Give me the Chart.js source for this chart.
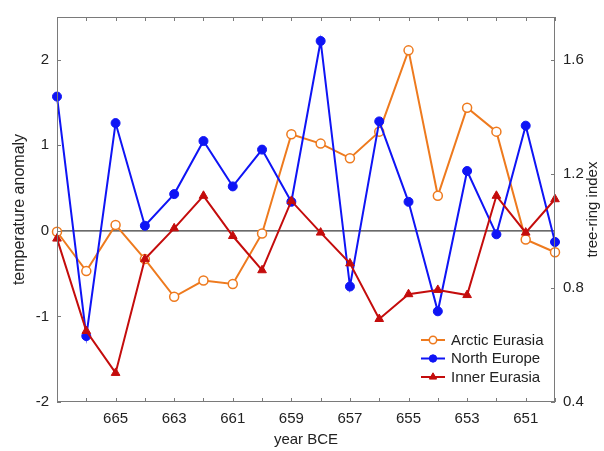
<!DOCTYPE html>
<html>
<head>
<meta charset="utf-8">
<script src="https://cdn.jsdelivr.net/npm/chart.js@4"></script>
<style>
  html, body { margin: 0; padding: 0; background: #fff; }
  #wrap { width: 604px; height: 451px; }
</style>
</head>
<body>
<div id="wrap"><canvas id="c" width="604" height="451"></canvas></div>
<script>
// ── Data ──────────────────────────────────────
const years        = [667, 666, 665, 664, 663, 662, 661, 660, 659, 658, 657, 656, 655, 654, 653, 652, 651, 650];
const yearLabels    = [665, 663, 661, 659, 657, 655, 653, 651];
const arcticEurasia = [-0.01, -0.47, 0.07, -0.33, -0.77, -0.58, -0.62, -0.03, 1.13, 1.02, 0.85, 1.16, 2.11, 0.41, 1.44, 1.16, -0.10, -0.25];
const northEurope   = [1.57, -1.23, 1.26, 0.06, 0.43, 1.05, 0.52, 0.95, 0.34, 2.22, -0.65, 1.28, 0.34, -0.94, 0.70, -0.04, 1.23, -0.13];
const innerEurasia  = [-0.09, -1.17, -1.66, -0.33, 0.03, 0.41, -0.06, -0.46, 0.35, -0.02, -0.38, -1.03, -0.74, -0.69, -0.75, 0.41, -0.02, 0.37];
const leftTicks     = [-2, -1, 0, 1, 2];
const rightTicks    = [0.4, 0.8, 1.2, 1.6];

const FONT   = "'Liberation Sans', Arial, sans-serif";
const ORANGE = '#EE7A1E';
const BLUE   = '#0F14F5';
const RED    = '#C40C0C';
const BOX    = '#7a7a7a';

const pts = vals => years.map((y, i) => ({ x: y, y: vals[i] }));

// ── Frame, inward ticks, zero line, right title, legend ──
const framePlugin = {
  id: 'frame',
  beforeDatasetsDraw(chart) {
    const { ctx, chartArea: a, scales } = chart;
    const y0 = scales.y.getPixelForValue(0);
    ctx.save();
    ctx.strokeStyle = '#3a3a3a';
    ctx.lineWidth = 1.3;
    ctx.beginPath();
    ctx.moveTo(a.left, y0);
    ctx.lineTo(a.right, y0);
    ctx.stroke();
    ctx.restore();
  },
  afterDraw(chart) {
    const { ctx, chartArea: a, scales } = chart;
    const tl = 4;
    ctx.save();
    ctx.strokeStyle = BOX;
    ctx.lineWidth = 1;
    ctx.strokeRect(a.left + 0.5, a.top + 0.5, a.right - a.left - 1, a.bottom - a.top - 1);
    ctx.beginPath();
    years.forEach(yr => {
      const px = Math.round(scales.x.getPixelForValue(yr)) + 0.5;
      ctx.moveTo(px, a.bottom); ctx.lineTo(px, a.bottom - tl);
      ctx.moveTo(px, a.top);    ctx.lineTo(px, a.top + tl);
    });
    leftTicks.forEach(v => {
      const py = Math.round(scales.y.getPixelForValue(v)) + 0.5;
      ctx.moveTo(a.left, py); ctx.lineTo(a.left + tl, py);
    });
    rightTicks.forEach(v => {
      const py = Math.round(scales.y2.getPixelForValue(v)) + 0.5;
      ctx.moveTo(a.right, py); ctx.lineTo(a.right - tl, py);
    });
    ctx.stroke();

    // right axis title, reading bottom to top
    ctx.fillStyle = '#222';
    ctx.font = `15px ${FONT}`;
    ctx.textAlign = 'center';
    ctx.textBaseline = 'middle';
    ctx.translate(593, (a.top + a.bottom) / 2);
    ctx.rotate(-Math.PI / 2);
    ctx.fillText('tree-ring index', 0, 0);
    ctx.restore();

    // legend
    ctx.save();
    const rows = [340, 358.5, 377];
    chart.data.datasets.forEach((ds, i) => {
      const y = rows[i];
      ctx.strokeStyle = ds.borderColor;
      ctx.lineWidth = 2;
      ctx.beginPath();
      ctx.moveTo(421, y); ctx.lineTo(445, y);
      ctx.stroke();
      ctx.fillStyle = ds.pointBackgroundColor;
      ctx.strokeStyle = ds.borderColor;
      ctx.lineWidth = ds.pointBorderWidth;
      Chart.helpers.drawPoint(ctx, {
        pointStyle: ds.pointStyle, radius: ds.pointRadius - 0.8,
        rotation: 0, borderWidth: ds.pointBorderWidth
      }, 433, y);
      ctx.fillStyle = '#222';
      ctx.font = `15px ${FONT}`;
      ctx.textAlign = 'left';
      ctx.textBaseline = 'middle';
      ctx.fillText(ds.label, 451, y + 0.5);
    });
    ctx.restore();
  }
};

new Chart(document.getElementById('c'), {
  type: 'line',
  data: {
    datasets: [
      { label: 'Arctic Eurasia', data: pts(arcticEurasia), order: 3,
        borderColor: ORANGE, borderWidth: 2, pointStyle: 'circle', pointRadius: 4.5,
        pointBorderWidth: 1.5, pointBackgroundColor: '#fff', pointBorderColor: ORANGE },
      { label: 'North Europe', data: pts(northEurope), order: 2,
        borderColor: BLUE, borderWidth: 2, pointStyle: 'circle', pointRadius: 4.5,
        pointBorderWidth: 1, pointBackgroundColor: BLUE, pointBorderColor: BLUE },
      { label: 'Inner Eurasia', data: pts(innerEurasia), order: 1,
        borderColor: RED, borderWidth: 2, pointStyle: 'triangle', pointRadius: 5,
        pointBorderWidth: 1, pointBackgroundColor: RED, pointBorderColor: RED }
    ]
  },
  options: {
    responsive: false,
    animation: false,
    devicePixelRatio: 1,
    clip: false,
    layout: { padding: { top: 14, left: 0, right: 0, bottom: 0 } },
    plugins: { legend: { display: false }, tooltip: { enabled: false } },
    scales: {
      x: {
        type: 'linear', reverse: true, min: 650, max: 667,
        grid: { display: false, drawTicks: false }, border: { display: false },
        ticks: {
          stepSize: 1, includeBounds: false, autoSkip: false, maxRotation: 0, padding: 8,
          color: '#222', font: { family: FONT, size: 15 },
          callback: v => (yearLabels.includes(v) ? String(v) : '')
        },
        title: { display: true, text: 'year BCE', color: '#222', font: { family: FONT, size: 15 },
                 padding: { top: 0, bottom: 2 } },
        afterFit: s => { s.height = 49; }
      },
      y: {
        position: 'left', min: -2, max: 2.5,
        grid: { display: false, drawTicks: false }, border: { display: false },
        ticks: { stepSize: 1, includeBounds: false, padding: 8, color: '#222',
                 font: { family: FONT, size: 15 } },
        title: { display: true, text: 'temperature anomaly', color: '#222',
                 font: { family: FONT, size: 16 }, padding: { top: 10, bottom: 0 } },
        afterFit: s => { s.width = 57; }
      },
      y2: {
        position: 'right', min: 0.4, max: 1.75,
        grid: { display: false, drawTicks: false }, border: { display: false },
        ticks: { stepSize: 0.4, includeBounds: false, padding: 8, color: '#222',
                 font: { family: FONT, size: 15 },
                 callback: v => (rightTicks.some(t => Math.abs(t - v) < 1e-6) ? v.toFixed(1) : '') },
        afterFit: s => { s.width = 49; }
      }
    }
  },
  plugins: [framePlugin]
});
</script>
</body>
</html>
